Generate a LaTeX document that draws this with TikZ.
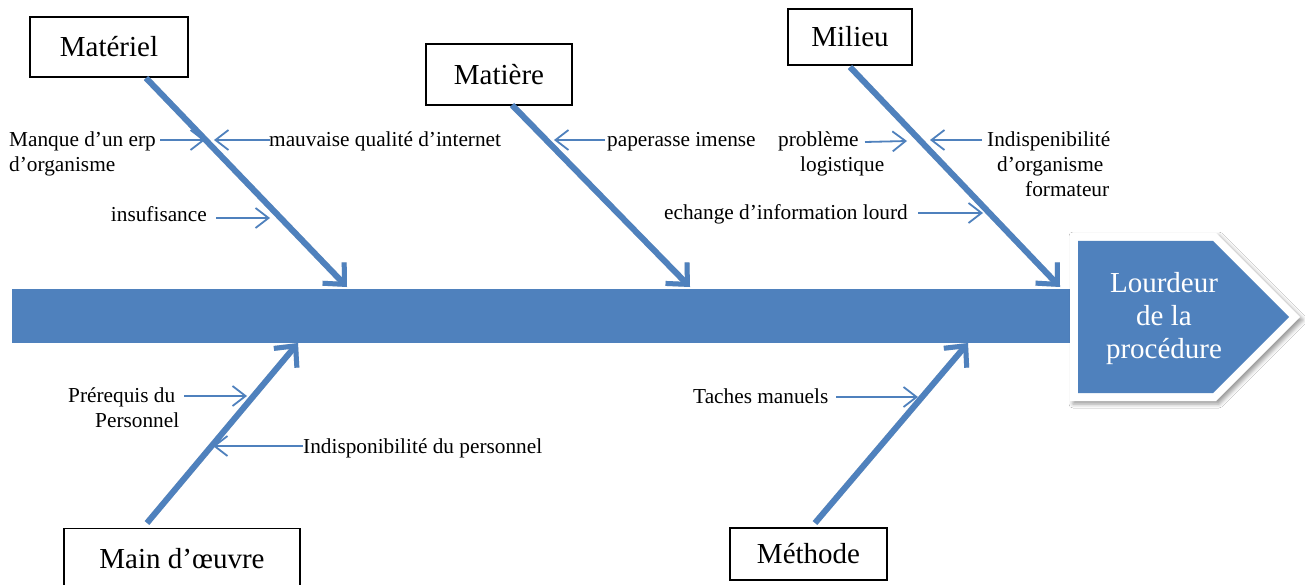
\documentclass[tikz,border=0pt]{standalone}
\usepackage{fontspec}
\setmainfont{Liberation Serif}
\usetikzlibrary{arrows.meta,shadows.blur}
\definecolor{fishblue}{HTML}{4F81BD}
\tikzset{
  catbox/.style={draw=black, line width=1.2pt, fill=white, inner sep=0pt, font=\fontsize{29}{33}\selectfont},
  lbl/.style={inner sep=0pt, font=\fontsize{21.3}{25}\selectfont, anchor=base west},
  lble/.style={lbl, anchor=base east},
  bone/.style={draw=fishblue, line width=6pt, -{Straight Barb[length=16pt,width=30pt,line width=5pt]}},
  boneshadow/.style={bone, draw=black!14, shift={(2,3)}},
  rib/.style={draw=fishblue, line width=1.8pt, -{Straight Barb[length=13pt,width=20pt,line width=1.8pt]}},
}
\begin{document}
\begin{tikzpicture}[x=1pt,y=-1pt]
\useasboundingbox (0,0) rectangle (1305,585);
\clip (0,0) rectangle (1305,585);
\fill[white] (0,0) rectangle (1305,585);

% bone end points
\coordinate (b1s) at (146,78);  \coordinate (b1e) at (347,287);
\coordinate (b2s) at (512,105); \coordinate (b2e) at (690,287);
\coordinate (b3s) at (850,67);  \coordinate (b3e) at (1060,287);
\coordinate (b4s) at (147,523); \coordinate (b4e) at (298,343);
\coordinate (b5s) at (815,523); \coordinate (b5e) at (968,343);

% shadows of bones
\draw[boneshadow] (b1s) -- (b1e);
\draw[boneshadow] (b2s) -- (b2e);
\draw[boneshadow] (b3s) -- (b3e);
\draw[boneshadow] (b4s) -- (b4e);
\draw[boneshadow] (b5s) -- (b5e);

% spine
\fill[fishblue] (12,289) rectangle (1076,343);

% effect head
\fill[white, blur shadow={shadow xshift=3pt, shadow yshift=-3pt, shadow blur radius=4pt}]
  (1070,233) -- (1216,233) -- (1300,317) -- (1216,401) -- (1070,401) -- cycle;
\fill[fishblue] (1078,241) -- (1213,241) -- (1289,317) -- (1213,393) -- (1078,393) -- cycle;
\node[inner sep=0pt, text=white, align=center, font=\fontsize{29}{33}\selectfont] (eff) at (1164,319) {Lourdeur\\de la\\procédure};

% category boxes
\node[catbox, minimum width=158pt, minimum height=60pt] (mat) at (109,47) {Matériel};
\node[catbox, minimum width=146pt, minimum height=61pt] (mtr) at (499,74.5) {Matière};
\node[catbox, minimum width=124pt, minimum height=56pt] (mil) at (850,37) {Milieu};
\node[catbox, anchor=north, minimum width=236pt, minimum height=80pt, text height=20pt, text depth=20pt] (mo) at (182,528) {Main d’œuvre};
\node[catbox, minimum width=157pt, minimum height=52pt] (met) at (808.5,554) {Méthode};

% bones
\draw[bone] (b1s) -- (b1e);
\draw[bone] (b2s) -- (b2e);
\draw[bone] (b3s) -- (b3e);
\draw[bone] (b4s) -- (b4e);
\draw[bone] (b5s) -- (b5e);

% labels
\node[lbl] (t1a) at (9,147) {Manque d’un erp};
\node[lbl] (t1b) at (9,172) {d’organisme};
\node[lbl] (t2) at (269,147) {mauvaise qualité d’internet};
\node[lble] (t3) at (207,222) {insufisance};
\node[lbl] (t4) at (607,147) {paperasse imense};
\node[lbl] (t5a) at (778,147) {problème};
\node[lbl] (t5b) at (800,172) {logistique};
\node[lbl] (t6a) at (987,147) {Indispenibilité};
\node[lbl] (t6b) at (997,172) {d’organisme};
\node[lbl] (t6c) at (1025,197) {formateur};
\node[lble] (t7) at (908,220) {echange d’information lourd};
\node[lbl] (t8a) at (68,402) {Prérequis du};
\node[lbl] (t8b) at (95,427) {Personnel};
\node[lbl] (t9) at (303,453) {Indisponibilité du personnel};
\node[lbl] (t10) at (693,403) {Taches manuels};

% rib arrows
\coordinate (r1s) at (160,140);  \coordinate (r1e) at (205,140);
\coordinate (r2s) at (270,140);  \coordinate (r2e) at (214,140);
\coordinate (r3s) at (216,218);  \coordinate (r3e) at (270,218);
\coordinate (r4s) at (605,140);  \coordinate (r4e) at (554,140);
\coordinate (r5s) at (865,142);  \coordinate (r5e) at (907,141);
\coordinate (r6s) at (982,140);  \coordinate (r6e) at (930,140);
\coordinate (r7s) at (918,213);  \coordinate (r7e) at (983,213);
\coordinate (r8s) at (184,396);  \coordinate (r8e) at (247,396);
\coordinate (r9s) at (303,446);  \coordinate (r9e) at (213,446);
\coordinate (r10s) at (836,397); \coordinate (r10e) at (918,397);
\draw[rib] (r1s) -- (r1e);
\draw[rib] (r2s) -- (r2e);
\draw[rib] (r3s) -- (r3e);
\draw[rib] (r4s) -- (r4e);
\draw[rib] (r5s) -- (r5e);
\draw[rib] (r6s) -- (r6e);
\draw[rib] (r7s) -- (r7e);
\draw[rib] (r8s) -- (r8e);
\draw[rib] (r9s) -- (r9e);
\draw[rib] (r10s) -- (r10e);
\end{tikzpicture}
\end{document}
